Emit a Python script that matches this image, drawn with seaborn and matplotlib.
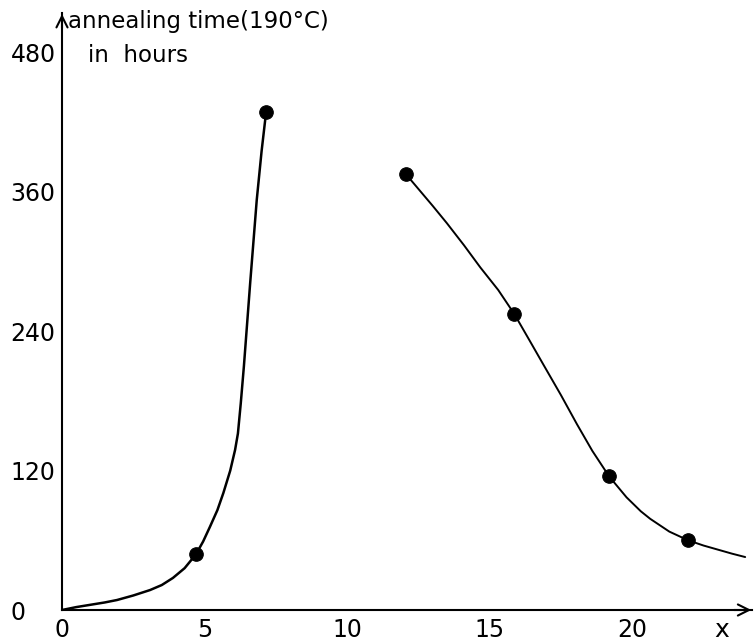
import numpy as np
import pandas as pd
import seaborn as sns
import matplotlib.pyplot as plt

# measured points (dots)
pts_x = [4.7, 7.16, 12.07, 15.86, 19.19, 21.96]
pts_y = [48, 429, 375, 255, 115, 60]

# traced curve, left branch
left_x = [0.0, 0.5, 1.0, 1.5, 1.93, 2.5, 3.09, 3.5, 3.89, 4.3, 4.7, 4.95, 5.19, 5.45,
          5.66, 5.9, 6.07, 6.17, 6.27, 6.38, 6.6, 6.83, 7.0, 7.16]
left_y = [0, 2.5, 4.5, 6.5, 8.6, 12.5, 17.2, 21.5, 27.6, 36, 48, 59, 71.7, 86,
          100.8, 120, 137.8, 152, 178, 210, 281.6, 353, 395, 429]

# traced curve, right branch
right_x = [12.07, 13.0, 13.5, 14.1, 14.67, 15.3, 15.86, 16.4, 16.89, 17.5, 18.06, 18.6,
           19.19, 19.8, 20.3, 20.63, 21.3, 21.96, 22.5, 23.0, 23.5, 23.96]
right_y = [375, 348, 333, 314, 295, 275.5, 255, 232, 211, 185, 160, 137,
           115, 97, 85, 78.5, 67.5, 60, 55.5, 52, 48.5, 45.6]

sns.set_theme(style="white")
plt.rcParams['font.family'] = ['DejaVu Sans']
plt.rcParams['text.color'] = 'black'

fig = plt.figure(figsize=(7.56, 6.43), dpi=100)
ax = fig.add_axes([62 / 756, 33 / 643, 690 / 756, 597 / 643])

left_df = pd.DataFrame({'x': left_x, 'y': left_y})
right_df = pd.DataFrame({'x': right_x, 'y': right_y})
sns.lineplot(data=left_df, x='x', y='y', sort=False, color='black', lw=1.8, ax=ax)
sns.lineplot(data=right_df, x='x', y='y', sort=False, color='black', lw=1.4, ax=ax)
sns.scatterplot(x=pts_x, y=pts_y, color='black', s=95, edgecolor='black', zorder=5, ax=ax)

ax.set_xlim(0, 24.2)
ax.set_ylim(0, 514)
ax.set_xticks([0, 5, 10, 15, 20])
ax.set_yticks([0, 120, 240, 360, 480])
ax.set_xticklabels(['0', '5', '10', '15', '20'], fontsize=17)
ax.set_yticklabels(['0', '120', '240', '360', '480'], fontsize=17)
ax.tick_params(axis='both', direction='in', length=6, width=1.2, colors='black', labelcolor='black')
ax.tick_params(axis='x', pad=6)
ax.tick_params(axis='y', pad=37)
for lab in ax.get_yticklabels():
    lab.set_horizontalalignment('left')

for side in ['top', 'right']:
    ax.spines[side].set_visible(False)
for side in ['left', 'bottom']:
    ax.spines[side].set_color('black')
    ax.spines[side].set_linewidth(1.5)

# arrow heads on axes
ax.annotate('', xy=(1.003, 0), xytext=(0.97, 0), xycoords='axes fraction',
            arrowprops=dict(arrowstyle='->', color='black', lw=1.5, mutation_scale=20))
ax.annotate('', xy=(0, 1.003), xytext=(0, 0.97), xycoords='axes fraction',
            arrowprops=dict(arrowstyle='->', color='black', lw=1.5, mutation_scale=20))

ax.set_xlabel('')
ax.set_ylabel('')
fig.text(68 / 756, 1 - 28 / 643, 'annealing time(190°C)', fontsize=16.5, ha='left', va='baseline')
fig.text(88 / 756, 1 - 62 / 643, 'in  hours', fontsize=16.5, ha='left', va='baseline')
fig.text(722 / 756, 1 - 637 / 643, 'x', fontsize=18, ha='center', va='baseline')

fig.savefig('out.png', dpi=100)
